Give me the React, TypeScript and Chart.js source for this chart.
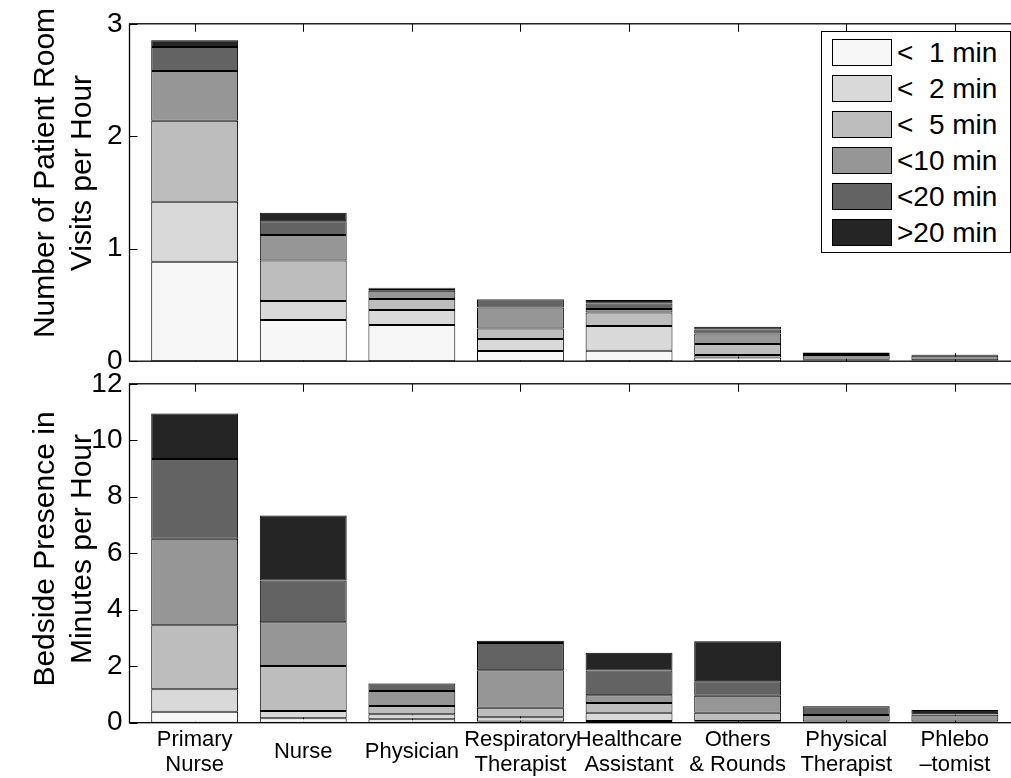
import React, { useEffect, useRef } from 'react';
import { Chart, registerables } from 'chart.js';

Chart.register(...registerables);

const FONT = '"Liberation Sans", Arial, Helvetica, sans-serif';

// ---- data ----
const categories: (string | string[])[] = [
  ['Primary', 'Nurse'],
  'Nurse',
  'Physician',
  ['Respiratory', 'Therapist'],
  ['Healthcare', 'Assistant'],
  ['Others', '& Rounds'],
  ['Physical', 'Therapist'],
  ['Phlebo', '\u2013tomist'],
];

const durationLabels = ['<  1 min', '<  2 min', '<  5 min', '<10 min', '<20 min', '>20 min'];
const durationColors = ['#f7f7f7', '#d9d9d9', '#bdbdbd', '#969696', '#636363', '#252525'];

// Number of patient room visits per hour, by visit duration
const visitsLt1 = [0.884, 0.366, 0.321, 0.091, 0.093, 0.034, 0.004, 0.002];
const visitsLt2 = [0.533, 0.169, 0.134, 0.106, 0.22, 0.021, 0.004, 0.002];
const visitsLt5 = [0.722, 0.36, 0.097, 0.094, 0.12, 0.098, 0.006, 0.004];
const visitsLt10 = [0.441, 0.226, 0.074, 0.187, 0.031, 0.094, 0.042, 0.04];
const visitsLt20 = [0.213, 0.124, 0.018, 0.071, 0.049, 0.035, 0.018, 0.01];
const visitsGt20 = [0.06, 0.076, 0.009, 0.004, 0.031, 0.024, 0.004, 0.002];

// Bedside presence in minutes per hour, by visit duration
const minutesLt1 = [0.39, 0.155, 0.12, 0.04, 0.06, 0.03, 0.01, 0.01];
const minutesLt2 = [0.79, 0.26, 0.18, 0.15, 0.29, 0.03, 0.01, 0.01];
const minutesLt5 = [2.27, 1.59, 0.29, 0.34, 0.35, 0.29, 0.02, 0.02];
const minutesLt10 = [3.06, 1.55, 0.53, 1.33, 0.27, 0.6, 0.23, 0.24];
const minutesLt20 = [2.83, 1.48, 0.27, 0.96, 0.88, 0.52, 0.31, 0.02];
const minutesGt20 = [1.61, 2.3, 0.01, 0.08, 0.63, 1.41, 0.01, 0.15];

const visitsSeries = [visitsLt1, visitsLt2, visitsLt5, visitsLt10, visitsLt20, visitsGt20];
const minutesSeries = [minutesLt1, minutesLt2, minutesLt5, minutesLt10, minutesLt20, minutesGt20];

const topTitle = ['Number of Patient Room', 'Visits per Hour'];
const bottomTitle = ['Bedside Presence in', 'Minutes per Hour'];

// ---- MATLAB-style box with inward ticks ----
const boxPlugin = {
  id: 'matlabBox',
  beforeDatasetsDraw(chart: any) {
    const { ctx, chartArea: a, scales } = chart;
    const x = scales.x;
    const y = scales.y;
    const L = 8;
    ctx.save();
    ctx.strokeStyle = '#000';
    ctx.lineWidth = 1;
    ctx.beginPath();
    y.ticks.forEach((t: any) => {
      const py = Math.round(y.getPixelForValue(t.value)) + 0.5;
      ctx.moveTo(a.left, py);
      ctx.lineTo(a.left + L, py);
      ctx.moveTo(a.right, py);
      ctx.lineTo(a.right - L, py);
    });
    categories.forEach((_, i) => {
      const px = Math.round(x.getPixelForValue(i)) + 0.5;
      ctx.moveTo(px, a.bottom);
      ctx.lineTo(px, a.bottom - L);
      ctx.moveTo(px, a.top);
      ctx.lineTo(px, a.top + L);
    });
    ctx.stroke();
    ctx.restore();
  },
  afterDatasetsDraw(chart: any) {
    const { ctx, chartArea: a } = chart;
    ctx.save();
    ctx.strokeStyle = '#000';
    ctx.lineWidth = 1.3;
    ctx.strokeRect(a.left, a.top, a.right - a.left, a.bottom - a.top);
    ctx.restore();
  },
};

function makeConfig(series: number[][], yMax: number, yStep: number, showX: boolean, padTop: number, padBottom: number) {
  return {
    type: 'bar' as const,
    data: {
      datasets: series.map((vals, k) => ({
        label: durationLabels[k],
        data: vals.map((v, i) => ({ x: i, y: v })),
        backgroundColor: durationColors[k],
        borderColor: '#000',
        borderWidth: 1,
        borderSkipped: false,
        barPercentage: 0.8,
        categoryPercentage: 1,
      })),
    },
    options: {
      animation: false,
      responsive: false,
      devicePixelRatio: 1,
      layout: { padding: { top: padTop, bottom: padBottom, left: 0, right: 2 } },
      plugins: { legend: { display: false }, tooltip: { enabled: false } },
      scales: {
        x: {
          type: 'linear',
          min: -0.6,
          max: 7.6,
          offset: false,
          stacked: true,
          display: showX,
          grid: { display: false, drawTicks: false, offset: false },
          border: { display: false },
          afterBuildTicks: (s: any) => {
            s.ticks = categories.map((_, i) => ({ value: i }));
          },
          afterFit: (s: any) => {
            if (showX) s.height = 55.3;
          },
          ticks: {
            autoSkip: false,
            maxRotation: 0,
            minRotation: 0,
            padding: 17,
            crossAlign: 'center',
            color: '#000',
            font: { family: FONT, size: 22, lineHeight: 25 / 22 },
            callback: (v: any) => categories[Math.round(v)] as any,
          },
        },
        y: {
          min: 0,
          max: yMax,
          stacked: true,
          grid: { display: false, drawTicks: false },
          border: { display: false },
          afterFit: (s: any) => {
            s.width = 129.5;
          },
          ticks: {
            stepSize: yStep,
            padding: 7,
            color: '#000',
            font: { family: FONT, size: 28 },
          },
        },
      },
    },
    plugins: [boxPlugin],
  };
}

function ChartCanvas(props: { cfg: any; top: number; width: number; height: number }) {
  const ref = useRef<HTMLCanvasElement | null>(null);
  useEffect(() => {
    if (!ref.current) return;
    const chart = new Chart(ref.current, props.cfg);
    return () => chart.destroy();
  }, []);
  return (
    <canvas
      ref={ref}
      width={props.width}
      height={props.height}
      style={{ position: 'absolute', left: 0, top: props.top, width: props.width, height: props.height }}
    />
  );
}

function AxisTitle(props: { lines: string[]; cx: number; cy: number }) {
  return (
    <div
      style={{
        position: 'absolute',
        left: props.cx,
        top: props.cy,
        transform: 'translate(-50%, -50%) rotate(-90deg)',
        whiteSpace: 'nowrap',
        textAlign: 'center',
        fontFamily: FONT,
        fontSize: 30,
        lineHeight: '37px',
        color: '#000',
      }}
    >
      {props.lines.map((l) => (
        <div key={l}>{l}</div>
      ))}
    </div>
  );
}

function Legend() {
  return (
    <div
      style={{
        position: 'absolute',
        left: 821,
        top: 31,
        width: 190,
        height: 222,
        border: '1px solid #000',
        boxSizing: 'border-box',
        background: '#fff',
      }}
    >
      {durationLabels.map((lab, i) => (
        <div key={lab} style={{ position: 'absolute', left: 10, top: 7 + i * 36, height: 27, display: 'flex', alignItems: 'center' }}>
          <div
            style={{
              width: 60,
              height: 27,
              boxSizing: 'border-box',
              border: '1px solid #000',
              background: durationColors[i],
            }}
          />
          <span
            style={{
              marginLeft: 5,
              fontFamily: FONT,
              fontSize: 28,
              lineHeight: '27px',
              whiteSpace: 'pre',
              color: '#000',
            }}
          >
            {lab}
          </span>
        </div>
      ))}
    </div>
  );
}

export default function App() {
  const topCfg = makeConfig(visitsSeries, 3, 1, false, 21.5, 20.5);
  const bottomCfg = makeConfig(minutesSeries, 12, 2, true, 23, 0);
  return (
    <div
      style={{
        position: 'fixed',
        left: 0,
        top: 0,
        width: 1011,
        height: 778,
        overflow: 'hidden',
        background: '#fff',
      }}
    >
      <ChartCanvas cfg={topCfg} top={0} width={1022} height={385} />
      <ChartCanvas cfg={bottomCfg} top={360} width={1022} height={418} />
      <AxisTitle lines={topTitle} cx={61.5} cy={173} />
      <AxisTitle lines={bottomTitle} cx={61.5} cy={549} />
      <Legend />
    </div>
  );
}
